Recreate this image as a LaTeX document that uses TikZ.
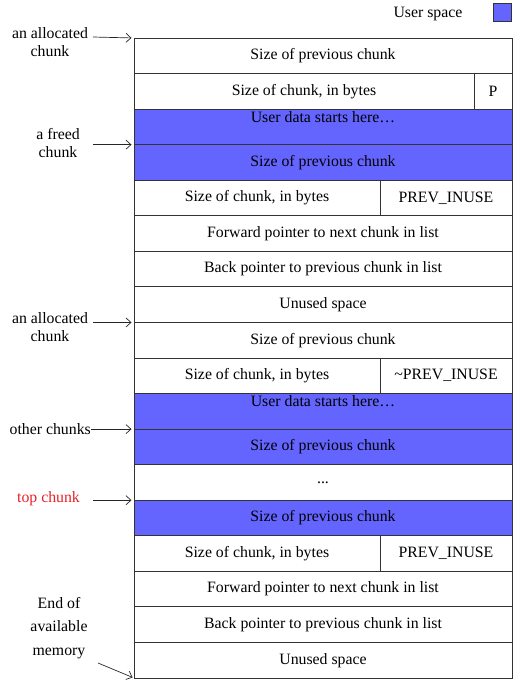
\documentclass[tikz,border=0pt]{standalone}
\usepackage{fontspec}
\setmainfont{Liberation Serif}
\usetikzlibrary{arrows.meta}
\definecolor{userblue}{HTML}{6464FF}
\definecolor{topred}{HTML}{E8202A}
\begin{document}
\begin{tikzpicture}[x=1pt,y=-1pt,
  cell/.style={draw=black!80, line width=0.9pt, inner sep=0pt, outer sep=0pt, anchor=north west,
    minimum height=35.56pt, font=\fontsize{15.8}{18}\selectfont},
  full/.style={cell, minimum width=378pt},
  ublue/.style={fill=userblue},
  lbl/.style={font=\fontsize{15.8}{18}\selectfont, align=center, inner sep=0pt},
  ptr/.style={-{Straight Barb[length=5pt,width=9pt]}, line width=0.7pt, draw=black!85}]
\useasboundingbox (0,0) rectangle (516,687);

% legend
\node[lbl] (leg) at (428,14) {User space};
\node[draw=black!80, fill=userblue, minimum size=18pt, inner sep=0pt, line width=0.6pt] (legbox) at (502,12) {};

% rows
\node[full] (r1) at (134,38) {Size of previous chunk};
\node[cell, minimum width=340pt] (r2a) at (134,73.56) {Size of chunk, in bytes};
\node[cell, minimum width=38pt] (r2b) at (474,73.56) {P};
\node[full, ublue, label={[lbl, anchor=north, yshift=-2pt]north:User data starts here…}] (r3) at (134,109.11) {};
\node[full, ublue] (r4) at (134,144.67) {Size of previous chunk};
\node[cell, minimum width=246pt] (r5a) at (134,180.22) {Size of chunk, in bytes};
\node[cell, minimum width=132pt] (r5b) at (380,180.22) {PREV\_INUSE};
\node[full] (r6) at (134,215.78) {Forward pointer to next chunk in list};
\node[full] (r7) at (134,251.33) {Back pointer to previous chunk in list};
\node[full] (r8) at (134,286.89) {Unused space};
\node[full] (r9) at (134,322.44) {Size of previous chunk};
\node[cell, minimum width=246pt] (r10a) at (134,358) {Size of chunk, in bytes};
\node[cell, minimum width=132pt] (r10b) at (380,358) {\textasciitilde PREV\_INUSE};
\node[full, ublue, label={[lbl, anchor=north, yshift=-2pt]north:User data starts here…}] (r11) at (134,393.56) {};
\node[full, ublue] (r12) at (134,429.11) {Size of previous chunk};
\node[full] (r13) at (134,464.67) {...};
\node[full, ublue] (r14) at (134,500.22) {Size of previous chunk};
\node[cell, minimum width=246pt] (r15a) at (134,535.78) {Size of chunk, in bytes};
\node[cell, minimum width=132pt] (r15b) at (380,535.78) {PREV\_INUSE};
\node[full] (r16) at (134,571.33) {Forward pointer to next chunk in list};
\node[full] (r17) at (134,606.89) {Back pointer to previous chunk in list};
\node[full] (r18) at (134,642.44) {Unused space};

% left labels
\node[lbl] (l1) at (50,42) {an allocated\\chunk};
\coordinate (l1s) at (93,37);
\draw[ptr, shorten >=2.5pt] (l1s) -- (r1.north west);

\node[lbl] (l2) at (58,143) {a freed\\chunk};
\coordinate (l2s) at (93,144.67);
\draw[ptr, shorten >=2.5pt] (l2s) -- (r4.north west);

\node[lbl] (l3) at (50,327) {an allocated\\chunk};
\coordinate (l3s) at (93,322.44);
\draw[ptr, shorten >=2.5pt] (l3s) -- (r9.north west);

\node[lbl, anchor=east] (l4) at (91,429.11) {other chunks};
\draw[ptr, shorten >=2.5pt] (l4.east) -- (r12.north west);

\node[lbl, text=topred] (l5) at (48.5,499) {top chunk};
\coordinate (l5s) at (93,500.22);
\draw[ptr, shorten >=2.5pt] (l5s) -- (r14.north west);

\node[lbl, font=\fontsize{15.8}{23.5}\selectfont] (l6) at (59,628) {End of\\available\\memory};
\coordinate (l6s) at (98,663);
\draw[ptr, shorten >=1.5pt] (l6s) -- (r18.south west);
\end{tikzpicture}
\end{document}
